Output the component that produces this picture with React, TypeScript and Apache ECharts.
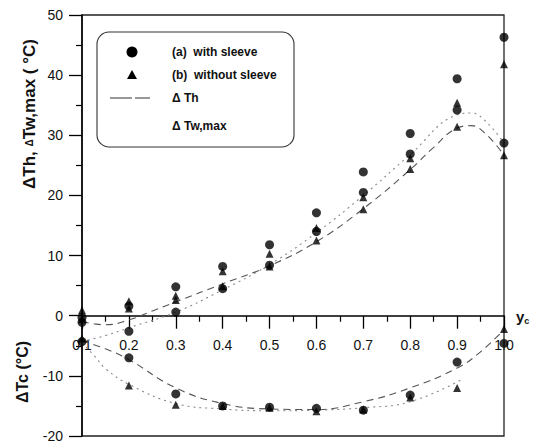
import React, { useEffect, useRef } from "react";
import * as echarts from "echarts";

// measured x positions (y_c)
const xs = [0.1, 0.2, 0.3, 0.4, 0.5, 0.6, 0.7, 0.8, 0.9, 1.0];

// (a) with sleeve – upper panel (ΔTh / ΔTw,max)
const circleHigh = [-0.3, 1.6, 4.8, 8.2, 11.8, 17.1, 23.9, 30.3, 39.4, 46.3];
const circleLow = [-1.1, -2.6, 0.6, 4.5, 8.4, 14.0, 20.5, 26.9, 34.2, 28.7];
// (b) without sleeve – upper panel
const triHigh = [0.9, 2.4, 3.3, 7.4, 10.3, 14.6, 19.7, 26.2, 35.4, 41.8];
const triLow = [-0.6, 1.2, 2.6, 4.9, 8.2, 12.5, 17.7, 24.4, 31.4, 26.7];

// lower panel ΔTc
const circleTc = [-4.3, -7.0, -13.0, -15.0, -15.2, -15.4, -15.7, -13.2, -7.7, -4.6];
const triTc = [-3.8, -11.6, -14.8, -15.0, -15.3, -15.9, -15.6, -13.6, -12.0, -2.2];

// fitted curves
const fitAX = [0.1, 0.13, 0.15, 0.2, 0.25, 0.3, 0.4, 0.5, 0.6, 0.7, 0.8, 0.85, 0.9, 0.93, 0.96, 1.0];
const fitAY = [-1.0, -1.4, -1.5, -0.7, 0.8, 2.3, 5.3, 8.3, 12.3, 17.8, 24.3, 28.0, 31.2, 31.6, 30.3, 26.7];
const fitBX = [0.1, 0.15, 0.2, 0.3, 0.4, 0.5, 0.6, 0.7, 0.8, 0.9, 0.93, 0.96, 1.0];
const fitBY = [-4.3, -3.3, -2.0, 0.6, 4.3, 8.5, 13.8, 20.0, 26.8, 33.4, 33.7, 32.4, 28.7];
const fitCX = [0.1, 0.15, 0.2, 0.3, 0.4, 0.5, 0.6, 0.7, 0.8, 0.9, 0.95, 1.0];
const fitCY = [-4.2, -5.5, -7.3, -12.0, -14.6, -15.5, -15.6, -14.3, -12.0, -8.7, -6.0, -2.3];
const fitDX = [0.1, 0.13, 0.15, 0.2, 0.3, 0.4, 0.5, 0.6, 0.7, 0.8, 0.91];
const fitDY = [-4.5, -7.0, -8.8, -11.4, -14.6, -15.5, -15.8, -15.7, -15.3, -14.3, -10.6];

const yTicks = { min: -20, max: 50, interval: 10 };
const xTicks = { min: 0.1, max: 1.0, interval: 0.1 };

const pairs = (x: number[], y: number[]) => x.map((v, i) => [v, y[i]]);

const FONT = "'Liberation Sans', Arial, sans-serif";
const W = 534;
const H = 445;
const GRID = { left: 82, right: 30, top: 15, bottom: 9 };

export default function App() {
  const ref = useRef<HTMLDivElement>(null);
  useEffect(() => {
    if (!ref.current) return;
    const chart = echarts.init(ref.current, null, { renderer: "svg" });
    const gridH = H - GRID.top - GRID.bottom;
    // place the x axis on y = 0
    const zeroOffset = -((0 - yTicks.min) / (yTicks.max - yTicks.min)) * gridH;
    const pointSeries = (data: number[][], symbol: string, size: number) => ({
      type: "scatter",
      data,
      symbol,
      symbolSize: size,
      itemStyle: { color: "#000" },
      clip: false,
      z: 5,
    });
    const curve = (data: number[][], type: any, color: string, width: number) => ({
      type: "line",
      data,
      smooth: 0.45,
      symbol: "none",
      lineStyle: { color, type, width },
      z: 3,
    });
    chart.setOption({
      animation: false,
      backgroundColor: "#fff",
      grid: {
        ...GRID,
        show: true,
        borderColor: "#222",
        borderWidth: 1.3,
        backgroundColor: "transparent",
      },
      xAxis: {
        type: "value",
        min: xTicks.min,
        max: xTicks.max,
        interval: xTicks.interval,
        position: "bottom",
        offset: zeroOffset,
        axisLine: { onZero: false, lineStyle: { color: "#000", width: 1.5 } },
        axisTick: { show: true, inside: false, length: 13, lineStyle: { color: "#000", width: 1.3 } },
        minorTick: { show: true, splitNumber: 2, length: 6, lineStyle: { color: "#000", width: 1.2 } },
        splitLine: { show: false },
        axisLabel: {
          margin: 22,
          fontFamily: FONT,
          fontSize: 14,
          color: "#111",
          formatter: (v: number) => v.toFixed(1),
        },
      },
      yAxis: {
        type: "value",
        min: yTicks.min,
        max: yTicks.max,
        interval: yTicks.interval,
        axisLine: { show: true, onZero: false, lineStyle: { color: "#000", width: 1.5 } },
        axisTick: { show: true, inside: false, length: 13, lineStyle: { color: "#000", width: 1.3 } },
        minorTick: { show: true, splitNumber: 2, length: 6, lineStyle: { color: "#000", width: 1.2 } },
        splitLine: { show: false },
        axisLabel: { margin: 19, fontFamily: FONT, fontSize: 14, color: "#111" },
      },
      series: [
        curve(pairs(fitAX, fitAY), [7, 5], "#555", 1.1),
        curve(pairs(fitBX, fitBY), [2, 4], "#888", 1.1),
        curve(pairs(fitCX, fitCY), [7, 5], "#555", 1.1),
        curve(pairs(fitDX, fitDY), [2, 4], "#888", 1.1),
        pointSeries(pairs(xs, circleHigh), "circle", 9),
        pointSeries(pairs(xs, circleLow), "circle", 9),
        pointSeries(pairs(xs, circleTc), "circle", 9),
        pointSeries(pairs(xs, triHigh), "triangle", 8),
        pointSeries(pairs(xs, triLow), "triangle", 8),
        pointSeries(pairs(xs, triTc), "triangle", 8),
      ],
      graphic: [
        {
          type: "text",
          x: 29,
          y: 114,
          rotation: Math.PI / 2,
          style: {
            text: "{b|ΔTh, }{s|Δ}{b|Tw,max ( °C)}",
            rich: {
              b: { fontFamily: FONT, fontSize: 17, fontWeight: "bold", fill: "#111" },
              s: { fontFamily: FONT, fontSize: 10, fontWeight: "bold", fill: "#111" },
            },
            align: "center",
            verticalAlign: "middle",
          },
        },
        {
          type: "text",
          x: 22,
          y: 372,
          rotation: Math.PI / 2,
          style: {
            text: "ΔTc (°C)",
            fontFamily: FONT,
            fontSize: 16,
            fontWeight: "bold",
            fill: "#111",
            align: "center",
            verticalAlign: "middle",
          },
        },
        {
          type: "text",
          x: 516,
          y: 316,
          style: {
            text: "{y|y}{c|c}",
            rich: {
              y: { fontFamily: FONT, fontSize: 15, fontWeight: "bold", fill: "#111" },
              c: { fontFamily: FONT, fontSize: 9, fontWeight: "bold", fill: "#111", padding: [10, 0, 0, 0] },
            },
            verticalAlign: "middle",
          },
        },
        {
          type: "rect",
          shape: { x: 97, y: 32, width: 197, height: 115, r: 12 },
          style: { fill: "#fff", stroke: "#333", lineWidth: 1.1 },
          z: 10,
        },
        { type: "circle", shape: { cx: 132, cy: 52, r: 5.5 }, style: { fill: "#000" }, z: 11 },
        {
          type: "polygon",
          shape: { points: [[132, 70], [127, 79], [137, 79]] },
          style: { fill: "#000" },
          z: 11,
        },
        {
          type: "line",
          shape: { x1: 110, y1: 98, x2: 150, y2: 98 },
          style: { stroke: "#333", lineWidth: 1.1, lineDash: [22, 3] },
          z: 11,
        },
        ...[
          ["(a)  with sleeve", 52],
          ["(b)  without sleeve", 75],
          ["Δ Th", 98],
          ["Δ Tw,max", 126],
        ].map(([t, y]) => ({
          type: "text",
          x: 172,
          y: y as number,
          z: 11,
          style: {
            text: t as string,
            fontFamily: FONT,
            fontSize: 12,
            fontWeight: "bold",
            fill: "#111",
            verticalAlign: "middle",
          },
        })),
      ],
    });
    return () => chart.dispose();
  }, []);
  return (
    <div
      ref={ref}
      style={{ position: "absolute", left: 0, top: 0, width: W, height: H }}
    />
  );
}
